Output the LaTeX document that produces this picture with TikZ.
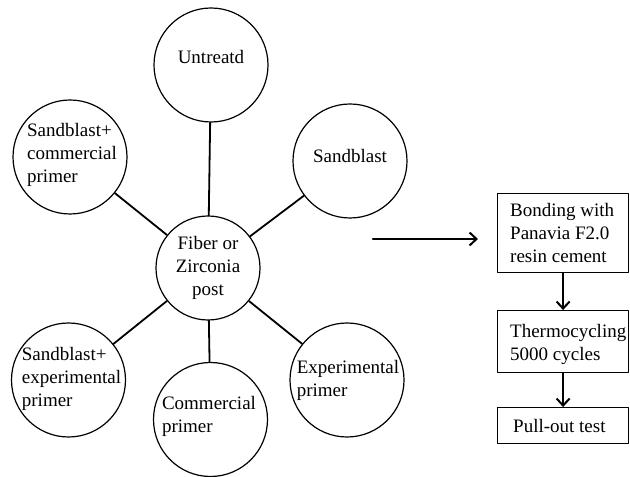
\documentclass[tikz,border=0pt]{standalone}
\usepackage{fontspec}
\setmainfont{Liberation Serif}
\usetikzlibrary{arrows.meta}

\begin{document}
\begin{tikzpicture}[x=1pt,y=1pt,line cap=round,line join=round,
    bubble/.style={draw,circle,line width=1.2pt,minimum size=114pt,inner sep=0pt},
    bubbletext/.style={align=left,inner sep=0pt,font=\fontsize{19}{23}\selectfont},
    spoke/.style={line width=1.8pt},
    stepbox/.style={draw,line width=1.2pt,anchor=north west,inner sep=0pt,minimum width=131pt},
    steptext/.style={bubbletext,anchor=west,xshift=13pt},
    flow/.style={-{Straight Barb[length=7pt,width=13pt,line width=2pt]},line width=2.2pt}]
\useasboundingbox (0,0) rectangle (630,477);
% centre and the six groups
\node[bubble,minimum size=104pt] (hub) at (208,209) {};
\node[bubbletext,align=center] (hub-t) at (hub) {Fiber or\\Zirconia\\post};
\node[bubble] (untr) at (211,412) {};
\node[bubbletext] (untr-t) at (211,420) {Untreatd};
\node[bubble] (sb) at (350,316) {};
\node[bubbletext] (sb-t) at (350,321) {Sandblast};
\node[bubble] (sbcp) at (70,320) {};
\node[bubbletext] (sbcp-t) at (72,322) {Sandblast+\\commercial\\primer};
\node[bubble] (sbep) at (68.5,97) {};
\node[bubbletext] (sbep-t) at (71.5,98) {Sandblast+\\experimental\\primer};
\node[bubble] (cp) at (210.5,57.5) {};
\node[bubbletext] (cp-t) at (209,60.5) {Commercial\\primer};
\node[bubble] (ep) at (347,97) {};
\node[bubbletext] (ep-t) at (348,97) {Experimental\\primer};
\foreach \g in {untr,sb,sbcp,sbep,cp,ep}
    \draw[spoke] (hub) -- (\g);
% test sequence
\coordinate (go-s) at (373,238);
\coordinate (go-e) at (478,238);
\draw[flow] (go-s) -- (go-e);
\node[stepbox,minimum height=79pt] (bond) at (497,284) {};
\node[steptext] (bond-t) at (bond.west) {Bonding with\\Panavia F2.0\\resin cement};
\node[stepbox,minimum height=62pt] (thermo) at (497,167) {};
\node[steptext] (thermo-t) at ([yshift=-3pt]thermo.west) {Thermocycling\\5000 cycles};
\node[stepbox,minimum height=36pt] (pull) at (497,70) {};
\node[steptext,xshift=3pt] (pull-t) at (pull.west) {Pull-out test};
\draw[flow] (bond) -- (thermo);
\draw[flow] (thermo) -- (pull);
\end{tikzpicture}
\end{document}
